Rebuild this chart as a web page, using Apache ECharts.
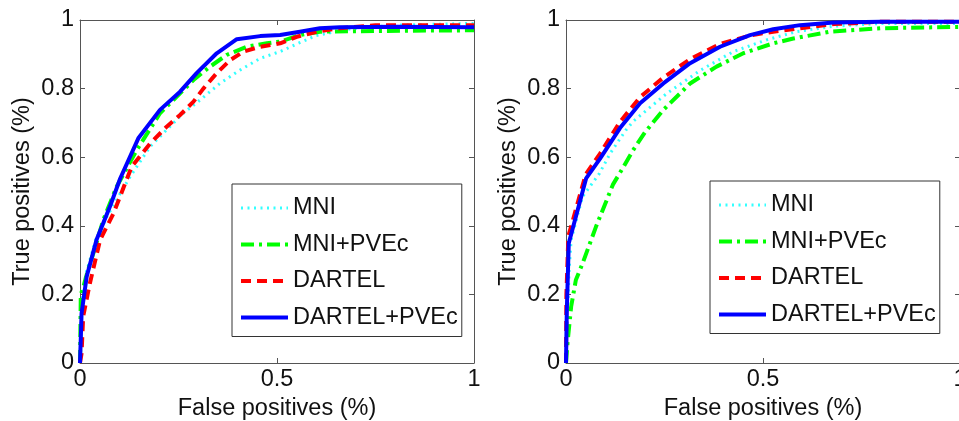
<!doctype html>
<html lang="en">
  <head>
    <meta charset="UTF-8" />
    <title>ROC curves</title>
    <style>
      html,
      body {
        margin: 0;
        padding: 0;
        background: #fff;
      }
      #roc {
        width: 959px;
        height: 421px;
      }
    </style>
  </head>
  <body>
    <div id="roc"></div>

    <script src="https://cdn.jsdelivr.net/npm/echarts@6/dist/echarts.min.js"></script>
    <script>
      // series names and tick labels
      const seriesNames = ['MNI', 'MNI+PVEc', 'DARTEL', 'DARTEL+PVEc']
      const xTicks = [0, 0.5, 1]
      const yTicks = [0, 0.2, 0.4, 0.6, 0.8, 1]

      // left panel, [false positives, true positives]
      const leftMNI = [[0, 0], [0.004, 0.17], [0.015, 0.26], [0.04, 0.36], [0.07, 0.43], [0.1, 0.49], [0.127, 0.543], [0.178, 0.631], [0.22, 0.68], [0.262, 0.728], [0.305, 0.767], [0.355, 0.815], [0.406, 0.854], [0.457, 0.888], [0.508, 0.908], [0.55, 0.93], [0.6, 0.955], [0.69, 0.975], [0.8, 0.985], [1, 0.99]]
      const leftMNIPVEc = [[0, 0], [0.002, 0.2], [0.008, 0.22], [0.02, 0.27], [0.034, 0.32], [0.059, 0.417], [0.093, 0.514], [0.144, 0.621], [0.203, 0.728], [0.254, 0.786], [0.288, 0.825], [0.33, 0.864], [0.372, 0.898], [0.423, 0.922], [0.474, 0.932], [0.508, 0.937], [0.558, 0.956], [0.609, 0.966], [0.75, 0.968], [1, 0.97]]
      const leftDARTEL = [[0, 0], [0.004, 0.028], [0.008, 0.135], [0.025, 0.232], [0.051, 0.359], [0.085, 0.436], [0.131, 0.572], [0.178, 0.64], [0.22, 0.689], [0.254, 0.723], [0.288, 0.762], [0.313, 0.8], [0.347, 0.845], [0.381, 0.883], [0.415, 0.908], [0.457, 0.922], [0.508, 0.932], [0.55, 0.951], [0.601, 0.966], [0.66, 0.976], [0.75, 0.985], [1, 0.985]]
      const leftDARTELPVEc = [[0, 0], [0.004, 0.145], [0.017, 0.252], [0.042, 0.359], [0.076, 0.456], [0.102, 0.538], [0.148, 0.655], [0.203, 0.738], [0.254, 0.791], [0.296, 0.845], [0.347, 0.903], [0.398, 0.944], [0.457, 0.953], [0.508, 0.956], [0.558, 0.966], [0.609, 0.976], [0.66, 0.979], [0.8, 0.98], [1, 0.979]]

      // right panel
      const rightMNI = [[0, 0], [0.004, 0.145], [0.008, 0.271], [0.013, 0.359], [0.042, 0.485], [0.085, 0.553], [0.112, 0.611], [0.152, 0.679], [0.171, 0.705], [0.256, 0.786], [0.342, 0.854], [0.425, 0.908], [0.509, 0.942], [0.585, 0.966], [0.68, 0.982], [0.8, 0.99], [1, 0.99]]
      const rightMNIPVEc = [[0, 0], [0.004, 0.06], [0.013, 0.164], [0.025, 0.242], [0.042, 0.29], [0.076, 0.397], [0.119, 0.52], [0.145, 0.57], [0.17, 0.62], [0.2, 0.672], [0.247, 0.738], [0.315, 0.815], [0.382, 0.864], [0.45, 0.903], [0.526, 0.932], [0.577, 0.946], [0.67, 0.966], [0.8, 0.976], [1, 0.98]]
      const rightDARTEL = [[0, 0], [0.001, 0.2], [0.006, 0.37], [0.05, 0.55], [0.086, 0.61], [0.137, 0.703], [0.188, 0.775], [0.247, 0.832], [0.315, 0.886], [0.391, 0.93], [0.467, 0.955], [0.526, 0.966], [0.594, 0.976], [0.68, 0.988], [0.8, 0.995], [1, 0.995]]
      const rightDARTELPVEc = [[0, 0], [0.002, 0.15], [0.007, 0.349], [0.051, 0.538], [0.086, 0.595], [0.137, 0.685], [0.188, 0.757], [0.247, 0.815], [0.315, 0.874], [0.391, 0.922], [0.467, 0.956], [0.526, 0.973], [0.594, 0.985], [0.68, 0.993], [0.8, 0.995], [1, 0.995]]

      const font = '"Liberation Sans", Arial, Helvetica, sans-serif'
      const fontSize = 23.5
      const boxColor = '#555'
      const textColor = '#111'

      // MATLAB style: ':' '-.' '--' '-'
      const lineStyles = [
        { color: '#33ffff', width: 3, type: [2, 4.5] },
        { color: '#00ff00', width: 4, type: [13, 5, 3, 5] },
        { color: '#ff0000', width: 4, type: [10, 6] },
        { color: '#0000ff', width: 4, type: 'solid' }
      ]

      const chart = echarts.init(document.querySelector('#roc'), null, { renderer: 'canvas' })

      function xAxis(gridIndex, position) {
        const main = position === 'bottom'
        return {
          type: 'value',
          gridIndex,
          position,
          min: xTicks[0],
          max: xTicks[xTicks.length - 1],
          interval: xTicks[1] - xTicks[0],
          name: main ? 'False positives (%)' : '',
          nameLocation: 'middle',
          nameGap: 27,
          nameTextStyle: { fontSize, fontFamily: font, color: textColor },
          axisLine: { show: true, onZero: false, lineStyle: { color: boxColor, width: 1 } },
          axisTick: { show: true, inside: true, length: 5, lineStyle: { color: boxColor } },
          axisLabel: { show: main, margin: 5, fontSize, fontFamily: font, color: textColor },
          splitLine: { show: false }
        }
      }

      function yAxis(gridIndex, position) {
        const main = position === 'left'
        return {
          type: 'value',
          gridIndex,
          position,
          min: yTicks[0],
          max: yTicks[yTicks.length - 1],
          interval: yTicks[1] - yTicks[0],
          name: main ? 'True positives (%)' : '',
          nameLocation: 'middle',
          nameGap: 45,
          nameTextStyle: { fontSize, fontFamily: font, color: textColor },
          axisLine: { show: true, onZero: false, lineStyle: { color: boxColor, width: 1 } },
          axisTick: { show: true, inside: true, length: 5, lineStyle: { color: boxColor } },
          axisLabel: { show: main, margin: 6, fontSize, fontFamily: font, color: textColor },
          splitLine: { show: false }
        }
      }

      function legend(left, top) {
        return {
          orient: 'vertical',
          left,
          top,
          selectedMode: false,
          data: seriesNames.map((name, i) => ({ name, lineStyle: { width: lineStyles[i].width } })),
          backgroundColor: '#fff',
          borderColor: '#333',
          borderWidth: 1,
          padding: [12, 4, 7, 7],
          itemWidth: 47,
          itemHeight: 14,
          itemGap: 12.5,
          itemStyle: { opacity: 0 },
          textStyle: { fontSize, fontFamily: font, color: textColor, lineHeight: 24 }
        }
      }

      function curves(sets, axisIndex) {
        return sets.map((data, i) => ({
          name: seriesNames[i],
          type: 'line',
          data,
          xAxisIndex: axisIndex,
          yAxisIndex: axisIndex,
          symbol: 'none',
          silent: true,
          lineStyle: lineStyles[i]
        }))
      }

      const option = {
        animation: false,
        backgroundColor: '#fff',
        grid: [
          { left: 80, top: 20, width: 394, height: 343, outerBoundsMode: 'none', containLabel: false },
          { left: 566, top: 20, width: 394, height: 343, outerBoundsMode: 'none', containLabel: false }
        ],
        xAxis: [xAxis(0, 'bottom'), xAxis(0, 'top'), xAxis(1, 'bottom'), xAxis(1, 'top')],
        yAxis: [yAxis(0, 'left'), yAxis(0, 'right'), yAxis(1, 'left'), yAxis(1, 'right')],
        legend: [legend(232, 184), legend(710, 181)],
        series: [
          ...curves([leftMNI, leftMNIPVEc, leftDARTEL, leftDARTELPVEc], 0),
          ...curves([rightMNI, rightMNIPVEc, rightDARTEL, rightDARTELPVEc], 2)
        ]
      }

      chart.setOption(option)
    </script>
  </body>
</html>
